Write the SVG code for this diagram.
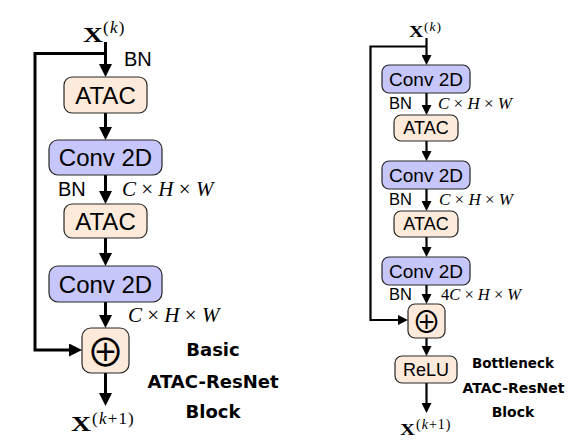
<svg xmlns="http://www.w3.org/2000/svg" width="572" height="448" viewBox="0 0 572 448">
<defs>
<style>
.peach{fill:#fdeada;stroke:#262626;stroke-width:1.2}
.lav{fill:#c6c6fa;stroke:#262626;stroke-width:1.2}
.lbl{font-family:"Liberation Sans",Arial,sans-serif;fill:#000}
.ttl{font-family:"DejaVu Sans",sans-serif;font-weight:bold;fill:#000;text-anchor:middle}
.math{font-family:"Liberation Serif","Times New Roman",serif;fill:#000}
.bx{font-family:"Liberation Serif","Times New Roman",serif;font-weight:bold;fill:#000}
.it{font-style:italic}
.op{font-family:"Noto Sans CJK SC","DejaVu Sans",sans-serif;fill:#000;text-anchor:middle}
.wl{fill:none;stroke:#000;stroke-width:3;marker-end:url(#ah1)}
.wr{fill:none;stroke:#000;stroke-width:2.2;marker-end:url(#ah2)}
</style>
<marker id="ah1" markerUnits="userSpaceOnUse" markerWidth="13" markerHeight="13" viewBox="0 0 13 13" refX="7" refY="6.5" orient="auto"><path d="M0,0 L13,6.5 L0,13 z" fill="#000"/></marker>
<marker id="ah2" markerUnits="userSpaceOnUse" markerWidth="10" markerHeight="10" viewBox="0 0 10 10" refX="5" refY="5" orient="auto"><path d="M0,0 L10,5 L0,10 z" fill="#000"/></marker>
</defs>
<rect width="572" height="448" fill="#fff"/>

<g id="connectors">
<path class="wl" d="M105.5,42 V71"/>
<path class="wl" d="M105.5,113 V134"/>
<path class="wl" d="M105.5,175 V198"/>
<path class="wl" d="M105.5,238 V260"/>
<path class="wl" d="M105.5,302 V322"/>
<path class="wl" d="M105.5,373 V400"/>
<path class="wl" d="M105.5,53.5 H35 V350 H76"/>

<path class="wr" d="M426.5,38 V60"/>
<path class="wr" d="M426.5,93 V110"/>
<path class="wr" d="M426.5,141 V156"/>
<path class="wr" d="M426.5,189 V206"/>
<path class="wr" d="M426.5,237 V252"/>
<path class="wr" d="M426.5,285 V299"/>
<path class="wr" d="M426.5,338 V351"/>
<path class="wr" d="M426.5,383 V408"/>
<path class="wr" d="M426.5,46.5 H370.5 V320 H403"/>
</g>

<g id="left-input">
<text class="bx" x="83" y="42" font-size="22" textLength="20" lengthAdjust="spacingAndGlyphs">X</text>
<text class="math" x="103" y="33" font-size="17" letter-spacing="1.2">(<tspan class="it">k</tspan>)</text>
</g>
<g id="left-bn1"><text class="lbl" x="124" y="66" font-size="20">BN</text></g>
<g id="left-atac1">
<rect class="peach" x="64" y="77" width="83" height="36" rx="8"/>
<text class="lbl" x="105.5" y="103.6" font-size="24" text-anchor="middle">ATAC</text>
</g>
<g id="left-conv1">
<rect class="lav" x="49" y="140" width="113" height="35" rx="9"/>
<text class="lbl" x="105.5" y="166" font-size="24" text-anchor="middle">Conv 2D</text>
</g>
<g id="left-bn2"><text class="lbl" x="58" y="196" font-size="20">BN</text></g>
<g id="left-dim1"><text class="math" x="122" y="196" font-size="21"><tspan class="it">C</tspan> × <tspan class="it">H</tspan> × <tspan class="it">W</tspan></text></g>
<g id="left-atac2">
<rect class="peach" x="64" y="204" width="83" height="34" rx="8"/>
<text class="lbl" x="105.5" y="229.6" font-size="24" text-anchor="middle">ATAC</text>
</g>
<g id="left-conv2">
<rect class="lav" x="49" y="266" width="113" height="36" rx="9"/>
<text class="lbl" x="105.5" y="292.6" font-size="24" text-anchor="middle">Conv 2D</text>
</g>
<g id="left-dim2"><text class="math" x="128" y="322" font-size="21"><tspan class="it">C</tspan> × <tspan class="it">H</tspan> × <tspan class="it">W</tspan></text></g>
<g id="left-add">
<rect class="peach" x="82" y="328" width="47" height="45" rx="9"/>
<text class="op" x="105.5" y="365.5" font-size="38">⊕</text>
</g>
<g id="left-output">
<text class="bx" x="71" y="431" font-size="22" textLength="20" lengthAdjust="spacingAndGlyphs">X</text>
<text class="math" x="92" y="424" font-size="17" letter-spacing="1.2">(<tspan class="it">k</tspan>+1)</text>
</g>
<g id="left-title">
<text class="ttl" x="213" y="356" font-size="18">Basic</text>
<text class="ttl" x="213" y="388" font-size="18">ATAC-ResNet</text>
<text class="ttl" x="213" y="418" font-size="18">Block</text>
</g>

<g id="right-input">
<text class="bx" x="409" y="37" font-size="17" textLength="14.5" lengthAdjust="spacingAndGlyphs">X</text>
<text class="math" x="424" y="30.5" font-size="13.5" letter-spacing="1">(<tspan class="it">k</tspan>)</text>
</g>
<g id="right-conv1">
<rect class="lav" x="382" y="65" width="88" height="28" rx="7"/>
<text class="lbl" x="426" y="85.8" font-size="19" text-anchor="middle">Conv 2D</text>
</g>
<g id="right-bn1"><text class="lbl" x="389" y="109" font-size="16.5">BN</text></g>
<g id="right-dim1"><text class="math" x="438" y="109" font-size="17"><tspan class="it">C</tspan> × <tspan class="it">H</tspan> × <tspan class="it">W</tspan></text></g>
<g id="right-atac1">
<rect class="peach" x="394" y="115" width="64" height="26" rx="7"/>
<text class="lbl" x="426" y="134.4" font-size="18" text-anchor="middle">ATAC</text>
</g>
<g id="right-conv2">
<rect class="lav" x="382" y="161" width="88" height="28" rx="7"/>
<text class="lbl" x="426" y="181.8" font-size="19" text-anchor="middle">Conv 2D</text>
</g>
<g id="right-bn2"><text class="lbl" x="389" y="205" font-size="16.5">BN</text></g>
<g id="right-dim2"><text class="math" x="439" y="205" font-size="17"><tspan class="it">C</tspan> × <tspan class="it">H</tspan> × <tspan class="it">W</tspan></text></g>
<g id="right-atac2">
<rect class="peach" x="394" y="211" width="64" height="26" rx="7"/>
<text class="lbl" x="426" y="230.4" font-size="18" text-anchor="middle">ATAC</text>
</g>
<g id="right-conv3">
<rect class="lav" x="382" y="257" width="88" height="28" rx="7"/>
<text class="lbl" x="426" y="277.8" font-size="19" text-anchor="middle">Conv 2D</text>
</g>
<g id="right-bn3"><text class="lbl" x="389" y="299.5" font-size="16.5">BN</text></g>
<g id="right-dim3"><text class="math" x="441" y="299.5" font-size="16.5">4<tspan class="it">C</tspan> × <tspan class="it">H</tspan> × <tspan class="it">W</tspan></text></g>
<g id="right-add">
<rect class="peach" x="408" y="304" width="37" height="34" rx="7"/>
<text class="op" x="426.5" y="332.5" font-size="29">⊕</text>
</g>
<g id="right-relu">
<rect class="peach" x="395" y="356" width="62" height="27" rx="7"/>
<text class="lbl" x="426" y="375.9" font-size="18" text-anchor="middle">ReLU</text>
</g>
<g id="right-output">
<text class="bx" x="400" y="435" font-size="17" textLength="15" lengthAdjust="spacingAndGlyphs">X</text>
<text class="math" x="416" y="429" font-size="14" letter-spacing="1">(<tspan class="it">k</tspan>+1)</text>
</g>
<g id="right-title">
<text class="ttl" x="513" y="368" font-size="13.5">Bottleneck</text>
<text class="ttl" x="513.5" y="393" font-size="14">ATAC-ResNet</text>
<text class="ttl" x="513" y="417" font-size="14">Block</text>
</g>
</svg>
